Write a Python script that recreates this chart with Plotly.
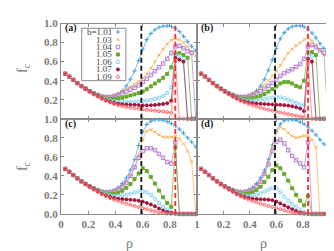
import plotly.graph_objects as go

# ---------------- data ----------------
rho = [0.03, 0.06, 0.09, 0.12, 0.15, 0.18, 0.21, 0.24, 0.27, 0.30, 0.33,
       0.36, 0.39, 0.42, 0.45, 0.48, 0.51, 0.54, 0.57, 0.60, 0.63, 0.66,
       0.69, 0.72, 0.75, 0.78, 0.81, 0.84, 0.87, 0.90, 0.93, 0.96, 0.99]

b_labels = ["1.01", "1.03", "1.04", "1.05", "1.06", "1.07", "1.09"]

# panel (a)
a_101 = [0.473,0.443,0.408,0.374,0.343,0.316,0.292,0.272,0.255,0.242,0.234,0.233,0.242,0.262,0.295,0.345,0.415,0.50,0.61,0.73,0.83,0.895,0.935,0.96,0.972,0.975,0.968,0.95,0.915,0.865,0.81,0.76,0.715]
a_103 = [0.473,0.443,0.408,0.374,0.343,0.316,0.291,0.27,0.252,0.24,0.235,0.238,0.248,0.265,0.285,0.31,0.335,0.36,0.39,0.425,0.47,0.53,0.60,0.67,0.73,0.785,0.825,0.84,0.83,0.80,0.76,0.71,0.66]
a_104 = [0.473,0.443,0.408,0.374,0.343,0.315,0.29,0.268,0.25,0.232,0.225,0.226,0.235,0.25,0.265,0.285,0.305,0.325,0.35,0.385,0.42,0.46,0.50,0.54,0.58,0.63,0.69,0.76,0.765,0.74,0.71,0.69,0.0]
a_105 = [0.473,0.443,0.408,0.374,0.343,0.315,0.289,0.266,0.245,0.225,0.212,0.205,0.206,0.212,0.22,0.232,0.244,0.256,0.27,0.285,0.31,0.34,0.37,0.40,0.43,0.47,0.54,0.68,0.69,0.67,0.64,0.0,0.0]
a_106 = [0.473,0.443,0.408,0.374,0.343,0.314,0.288,0.264,0.242,0.22,0.203,0.19,0.182,0.178,0.176,0.176,0.177,0.179,0.181,0.184,0.19,0.198,0.208,0.22,0.24,0.27,0.33,0.67,0.66,0.62,0.0,0.0,0.0]
a_107 = [0.473,0.443,0.408,0.374,0.343,0.314,0.288,0.263,0.24,0.215,0.195,0.178,0.166,0.158,0.153,0.15,0.148,0.146,0.143,0.14,0.14,0.142,0.145,0.15,0.155,0.162,0.19,0.64,0.62,0.60,0.0,0.0,0.0]
a_109 = [0.473,0.443,0.407,0.372,0.339,0.308,0.28,0.255,0.23,0.208,0.188,0.17,0.155,0.142,0.132,0.123,0.116,0.11,0.104,0.099,0.094,0.089,0.085,0.08,0.076,0.07,0.06,0.60,0.0,0.0,0.0,0.0,0.0]

# panel (b)
b_101 = [0.473,0.443,0.408,0.374,0.343,0.316,0.292,0.272,0.255,0.242,0.234,0.234,0.243,0.262,0.295,0.345,0.415,0.51,0.62,0.74,0.84,0.905,0.945,0.968,0.977,0.976,0.965,0.94,0.90,0.85,0.79,0.74,0.69]
b_103 = [0.473,0.443,0.408,0.374,0.343,0.316,0.291,0.27,0.252,0.24,0.235,0.238,0.248,0.262,0.285,0.318,0.358,0.40,0.45,0.50,0.56,0.63,0.69,0.73,0.77,0.80,0.83,0.85,0.82,0.77,0.72,0.67,0.63]
b_104 = [0.473,0.443,0.408,0.374,0.343,0.315,0.29,0.268,0.25,0.232,0.225,0.226,0.235,0.25,0.268,0.29,0.315,0.345,0.375,0.41,0.45,0.48,0.50,0.52,0.545,0.575,0.63,0.76,0.775,0.75,0.72,0.69,0.0]
b_105 = [0.473,0.443,0.408,0.374,0.343,0.315,0.289,0.266,0.245,0.225,0.212,0.206,0.208,0.215,0.225,0.24,0.26,0.285,0.31,0.34,0.37,0.385,0.385,0.37,0.345,0.33,0.40,0.69,0.70,0.67,0.0,0.0,0.0]
b_106 = [0.473,0.443,0.408,0.374,0.343,0.314,0.288,0.264,0.242,0.22,0.205,0.195,0.19,0.19,0.193,0.198,0.205,0.213,0.222,0.228,0.225,0.215,0.20,0.183,0.165,0.15,0.14,0.68,0.66,0.0,0.0,0.0,0.0]
b_107 = [0.473,0.443,0.408,0.374,0.343,0.314,0.288,0.263,0.24,0.215,0.195,0.18,0.17,0.164,0.16,0.157,0.155,0.153,0.15,0.148,0.146,0.143,0.138,0.13,0.12,0.108,0.08,0.63,0.60,0.0,0.0,0.0,0.0]
b_109 = [0.473,0.443,0.407,0.372,0.339,0.308,0.28,0.255,0.23,0.208,0.188,0.17,0.155,0.14,0.127,0.115,0.104,0.094,0.084,0.075,0.066,0.057,0.048,0.04,0.032,0.024,0.015,0.58,0.0,0.0,0.0,0.0,0.0]

# panel (c)
c_101 = [0.473,0.443,0.408,0.374,0.343,0.316,0.292,0.272,0.255,0.243,0.236,0.24,0.255,0.28,0.32,0.38,0.46,0.57,0.72,0.86,0.94,0.975,0.99,0.99,0.985,0.97,0.95,0.925,0.89,0.85,0.80,0.755,0.705]
c_103 = [0.473,0.443,0.408,0.374,0.343,0.316,0.291,0.27,0.252,0.24,0.233,0.236,0.247,0.266,0.295,0.335,0.395,0.485,0.62,0.78,0.87,0.885,0.86,0.83,0.81,0.805,0.81,0.815,0.79,0.74,0.66,0.55,0.0]
c_104 = [0.473,0.443,0.408,0.374,0.343,0.315,0.29,0.268,0.25,0.232,0.225,0.227,0.238,0.258,0.285,0.33,0.40,0.49,0.59,0.66,0.69,0.69,0.67,0.63,0.59,0.545,0.53,0.75,0.0,0.0,0.0,0.0,0.0]
c_105 = [0.473,0.443,0.408,0.374,0.343,0.315,0.289,0.266,0.245,0.225,0.213,0.208,0.212,0.223,0.243,0.275,0.315,0.365,0.425,0.48,0.45,0.39,0.32,0.245,0.175,0.115,0.075,0.70,0.0,0.0,0.0,0.0,0.0]
c_106 = [0.473,0.443,0.408,0.374,0.343,0.314,0.288,0.264,0.242,0.22,0.205,0.195,0.19,0.19,0.195,0.203,0.213,0.225,0.235,0.238,0.228,0.20,0.16,0.115,0.075,0.045,0.022,0.008,0.0,0.0,0.0,0.0,0.0]
c_107 = [0.473,0.443,0.408,0.374,0.343,0.314,0.288,0.263,0.24,0.213,0.193,0.178,0.167,0.16,0.156,0.153,0.15,0.146,0.14,0.13,0.116,0.10,0.08,0.057,0.036,0.02,0.01,0.004,0.0,0.0,0.0,0.0,0.0]
c_109 = [0.473,0.443,0.407,0.372,0.339,0.308,0.28,0.255,0.23,0.205,0.185,0.166,0.15,0.135,0.121,0.108,0.096,0.084,0.072,0.061,0.05,0.038,0.027,0.017,0.009,0.004,0.0,0.0,0.0,0.0,0.0,0.0,0.0]

# panel (d)
d_101 = [0.473,0.443,0.408,0.374,0.343,0.316,0.292,0.272,0.255,0.243,0.236,0.24,0.255,0.28,0.32,0.38,0.46,0.575,0.725,0.865,0.945,0.98,0.99,0.99,0.983,0.965,0.945,0.915,0.875,0.83,0.78,0.735,0.69]
d_103 = [0.473,0.443,0.408,0.374,0.343,0.316,0.291,0.27,0.252,0.24,0.233,0.236,0.247,0.267,0.297,0.34,0.42,0.53,0.70,0.86,0.91,0.89,0.85,0.82,0.80,0.81,0.82,0.82,0.78,0.70,0.0,0.0,0.0]
d_104 = [0.473,0.443,0.408,0.374,0.343,0.315,0.29,0.268,0.25,0.232,0.225,0.227,0.238,0.26,0.29,0.34,0.42,0.52,0.66,0.76,0.78,0.74,0.67,0.61,0.565,0.53,0.49,0.75,0.0,0.0,0.0,0.0,0.0]
d_105 = [0.473,0.443,0.408,0.374,0.343,0.315,0.289,0.266,0.245,0.225,0.213,0.208,0.213,0.228,0.25,0.285,0.335,0.39,0.46,0.51,0.48,0.42,0.35,0.27,0.20,0.14,0.09,0.19,0.0,0.0,0.0,0.0,0.0]
d_106 = [0.473,0.443,0.408,0.374,0.343,0.314,0.288,0.264,0.242,0.22,0.205,0.195,0.19,0.192,0.20,0.215,0.235,0.255,0.275,0.27,0.23,0.18,0.14,0.105,0.075,0.045,0.02,0.005,0.0,0.0,0.0,0.0,0.0]
d_107 = [0.473,0.443,0.408,0.374,0.343,0.314,0.288,0.263,0.24,0.213,0.193,0.178,0.167,0.16,0.157,0.155,0.153,0.15,0.145,0.13,0.11,0.09,0.07,0.05,0.03,0.015,0.005,0.0,0.0,0.0,0.0,0.0,0.0]
d_109 = [0.473,0.443,0.407,0.372,0.339,0.308,0.28,0.255,0.23,0.205,0.185,0.166,0.15,0.135,0.121,0.108,0.096,0.084,0.072,0.061,0.05,0.038,0.027,0.017,0.009,0.004,0.0,0.0,0.0,0.0,0.0,0.0,0.0]

rho_black = 0.59
rho_red = 0.84

x_ticks_c = [0, 0.2, 0.4, 0.6, 0.8, 1.0]
x_ticktext_c = ["0", "0.2", "0.4", "0.6", "0.8", "1"]
x_ticks_d = [0.2, 0.4, 0.6, 0.8, 1.0]
x_ticktext_d = ["0.2", "0.4", "0.6", "0.8", "1"]
y_ticks_top = [0.2, 0.4, 0.6, 0.8, 1.0]
y_ticktext_top = ["0.2", "0.4", "0.6", "0.8", "1.0"]
y_ticks_bot = [0, 0.2, 0.4, 0.6, 0.8, 1.0]
y_ticktext_bot = ["0.0", "0.2", "0.4", "0.6", "0.8", "1.0"]

panels = [
    ("(a)", [a_101, a_103, a_104, a_105, a_106, a_107, a_109]),
    ("(b)", [b_101, b_103, b_104, b_105, b_106, b_107, b_109]),
    ("(c)", [c_101, c_103, c_104, c_105, c_106, c_107, c_109]),
    ("(d)", [d_101, d_103, d_104, d_105, d_106, d_107, d_109]),
]

# ---------------- style ----------------
colors = ["#45a2df", "#f6b04a", "#b47fcf", "#68a92c", "#8dd3f3", "#a3153d", "#ff6a6a"]
symbols = ["cross-thin-open", "x-thin-open", "square-open", "square",
           "circle-open", "circle", "circle-open"]
msizes = [3, 3, 3.5, 3, 3.5, 3, 3]
W, H = 334, 251
GRAY = "#8a8a8a"
TXT = "#7a7a7a"
SERIF = "Liberation Serif"

def px(x):
    return x / W

def py(y):
    return 1 - y / H

xdom = [[px(51), px(189.5)], [px(189.5), px(324)]]
ydom = [[py(110), py(10)], [py(210), py(110)]]

fig = go.Figure()

for k, (plabel, series) in enumerate(panels):
    ax = "" if k == 0 else str(k + 1)
    for j, vals in enumerate(series):
        fig.add_trace(go.Scatter(
            x=rho, y=vals, mode="lines+markers",
            xaxis="x" + ax, yaxis="y" + ax,
            line=dict(color=colors[j], width=0.7),
            marker=dict(symbol=symbols[j], size=msizes[j], color=colors[j],
                        line=dict(color=colors[j], width=1)),
            cliponaxis=False, showlegend=False, hoverinfo="skip"))

layout = dict(width=W, height=H, margin=dict(l=0, r=0, t=0, b=0),
              paper_bgcolor="white", plot_bgcolor="rgba(0,0,0,0)",
              showlegend=False)

tickfont = dict(family=SERIF, size=11, color=TXT, weight="bold")
for k in range(4):
    ax = "" if k == 0 else str(k + 1)
    col, row = k % 2, k // 2
    xa = dict(domain=xdom[col], range=[0, 1], anchor="y" + ax,
              showline=True, linecolor=GRAY, linewidth=1.3, mirror="ticks",
              ticks="inside", ticklen=3, tickcolor=GRAY, tickwidth=1,
              showgrid=False, zeroline=False,
              tickfont=tickfont, fixedrange=True)
    ya = dict(domain=ydom[row], range=[0, 1], anchor="x" + ax,
              showline=True, linecolor=GRAY, linewidth=1.3, mirror="ticks",
              ticks="inside", ticklen=3, tickcolor=GRAY, tickwidth=1,
              showgrid=False, zeroline=False,
              tickfont=tickfont, fixedrange=True)
    if col == 0:
        xa["tickvals"], xa["ticktext"] = x_ticks_c, x_ticktext_c
    else:
        xa["tickvals"], xa["ticktext"] = x_ticks_d, x_ticktext_d
    xa["showticklabels"] = (row == 1)
    if row == 0:
        ya["tickvals"], ya["ticktext"] = y_ticks_top, y_ticktext_top
    else:
        ya["tickvals"], ya["ticktext"] = y_ticks_bot, y_ticktext_bot
    ya["showticklabels"] = (col == 0)
    layout["xaxis" + ax] = xa
    layout["yaxis" + ax] = ya

# overlay axes for legend keys
leg_x0, leg_x1, leg_y0, leg_y1 = 72, 117, 15, 70
layout["xaxis5"] = dict(domain=[px(leg_x0), px(leg_x1)], range=[0, 1], visible=False,
                        anchor="y5", fixedrange=True)
layout["yaxis5"] = dict(domain=[py(leg_y1), py(leg_y0)], range=[len(b_labels), 0],
                        visible=False, anchor="x5", fixedrange=True)
for j in range(len(b_labels)):
    fig.add_trace(go.Scatter(
        x=[0.82], y=[j + 0.5], xaxis="x5", yaxis="y5", mode="markers",
        marker=dict(symbol=symbols[j], size=msizes[j], color=colors[j],
                    line=dict(color=colors[j], width=1)),
        cliponaxis=False, showlegend=False, hoverinfo="skip"))

fig.update_layout(**layout)

shapes = []
annotations = []
for k, (plabel, _) in enumerate(panels):
    ax = "" if k == 0 else str(k + 1)
    for xv, c in [(rho_black, "#111111"), (rho_red, "#ff2a2a")]:
        shapes.append(dict(type="line", xref="x" + ax, yref="y" + ax,
                           x0=xv, x1=xv, y0=0, y1=1, layer="above",
                           line=dict(color=c, width=1.8, dash="5px,3px")))
    col, row = k % 2, k // 2
    annotations.append(dict(text="<b>" + plabel + "</b>", xref="paper", yref="paper",
                            x=xdom[col][0] + px(1.5), y=ydom[row][1] - 5 / H,
                            xanchor="left", yanchor="middle", showarrow=False,
                            font=dict(family=SERIF, size=10, color="#222222")))

# legend box + text
shapes.append(dict(type="rect", xref="paper", yref="paper",
                   x0=px(leg_x0), x1=px(leg_x1), y0=py(leg_y1), y1=py(leg_y0),
                   fillcolor="white", line=dict(color=GRAY, width=1), layer="below"))
row_h = (leg_y1 - leg_y0) / len(b_labels)
for j, lab in enumerate(b_labels):
    t = ("b=" + lab) if j == 0 else lab
    annotations.append(dict(text=t, xref="paper", yref="paper",
                            x=px(104), y=py(leg_y0 + row_h * (j + 0.5)),
                            xanchor="right", yanchor="middle", showarrow=False,
                            borderpad=0,
                            font=dict(family=SERIF, size=9, color="#444444")))

# axis titles
for xc in [(51 + 189.5) / 2, (189.5 + 324) / 2]:
    annotations.append(dict(text="ρ", xref="paper", yref="paper", x=px(xc), y=py(241),
                            xanchor="center", yanchor="middle", showarrow=False,
                            font=dict(family=SERIF, size=14, color=TXT)))
for yc in [57, 160]:
    annotations.append(dict(text="f<sub>c</sub>", xref="paper", yref="paper",
                            x=px(13), y=py(yc), textangle=-90,
                            xanchor="center", yanchor="middle", showarrow=False,
                            font=dict(family=SERIF, size=14, color=TXT)))

fig.update_layout(shapes=shapes, annotations=annotations)
fig.write_html("out.html")
